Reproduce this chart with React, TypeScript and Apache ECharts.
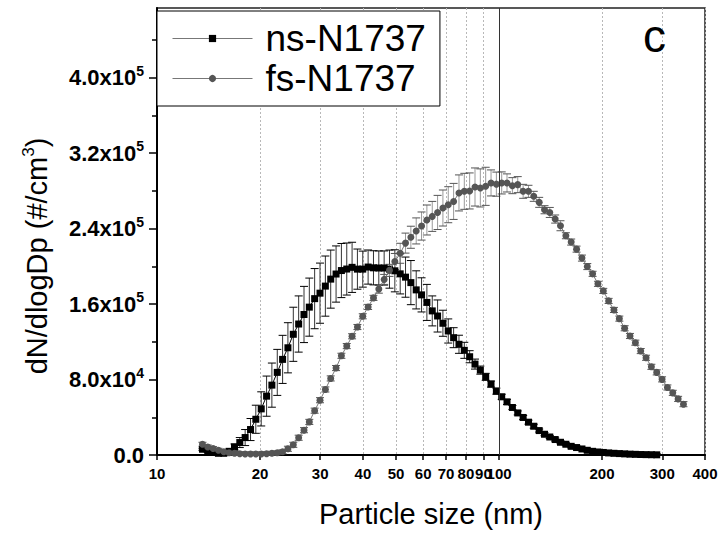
import React, { useEffect, useRef } from "react";
import * as echarts from "echarts";

// SMPS channel mid-point diameters (nm)
const sizes = [
  13.58, 14.07, 14.59, 15.12, 15.68, 16.25, 16.85, 17.46, 18.1, 18.77,
  19.45, 20.17, 20.91, 21.67, 22.47, 23.29, 24.14, 25.03, 25.95, 26.9,
  27.88, 28.9, 29.96, 31.06, 32.2, 33.38, 34.6, 35.87, 37.18, 38.54,
  39.95, 41.42, 42.94, 44.51, 46.14, 47.83, 49.58, 51.4, 53.28, 55.23,
  57.25, 59.35, 61.52, 63.78, 66.11, 68.53, 71.04, 73.65, 76.35, 79.14,
  82.04, 85.05, 88.16, 91.39, 94.74, 98.21, 101.8, 105.5, 109.4, 113.4,
  117.6, 121.9, 126.3, 131.0, 135.8, 140.7, 145.9, 151.2, 156.8, 162.5,
  168.5, 174.7, 181.1, 187.7, 194.6, 201.7, 209.1, 216.7, 224.7, 232.9,
  241.4, 250.3, 259.5, 269.0, 278.8, 289.0, 299.6, 310.6, 322.0, 333.8,
  346.0,
];

// ns-N1737 (black squares): dN/dlogDp and error, from 13.58 nm to 289 nm
const nsValues = [
  6100, 3900, 2900, 1800, 1800, 3900, 8500, 13200, 18500, 27000,
  37900, 48900, 62400, 74100, 87600, 101400, 113700, 128000, 138900, 149000,
  156800, 165800, 171600, 179100, 186500, 191900, 195600, 197200, 199000, 197100,
  197100, 199300, 198500, 198300, 198300, 197100, 195300, 192100, 188600, 182800,
  175100, 169800, 161800, 152800, 147400, 139700, 131500, 124400, 117400, 111000,
  104200, 96400, 90000, 82900, 75200, 67700, 61700, 56300, 50400, 44600,
  39800, 34800, 30500, 25900, 22000, 19100, 16400, 13500, 11400, 9200,
  7900, 6400, 5000, 3900, 3200, 2700, 2200, 1800, 1500, 1200,
  900, 700, 500, 400, 300, 200,
];
const nsErrors = [
  1100, 1100, 1100, 1100, 1100, 2100,
  3200, 5300, 8500, 11700, 14900, 18100, 21300, 23400, 24400, 25500,
  26600, 28700, 29800, 29800, 30800, 31900, 31900, 31900, 30800, 29800,
  28700, 27600, 26600, 21300, 19100, 18100, 18100, 18100, 18100, 20200,
  22300, 21300, 21300, 23400, 20200, 18100, 19100, 15900, 17000, 13800,
  12800, 10600, 9600, 8500, 6400, 5300, 4300, 3700, 3200, 3200,
  2700, 2700,
  2100, 2100, 2100, 2100, 2100,
  1600, 1600, 1600, 1600, 1600, 1600, 1600, 1600, 1600, 1600,
  1100, 1100, 1100, 1100, 1100, 1100, 1100, 1100, 1100, 1100, 1100, 1100, 1100,
];

// fs-N1737 (grey circles): from 13.58 nm to 346 nm
const fsValues = [
  11400, 8500, 6800, 5000, 3400, 2300, 1800, 1300, 1100, 1000,
  1000, 1100, 1300, 1800, 2300, 3400, 6600, 10800, 18300, 26300,
  35100, 47000, 58100, 69500, 81200, 92200, 105200, 115500, 125900, 135700,
  147100, 157000, 166600, 175900, 186200, 195800, 205200, 213900, 224700, 230900,
  237600, 242800, 249200, 253000, 257200, 261900, 265400, 268900, 277900, 279600,
  280000, 284200, 283200, 284900, 288500, 287200, 288500, 288500, 285600, 286700,
  279600, 279600, 274300, 267900, 260100, 257200, 250200, 243100, 232500, 225800,
  218300, 208800, 199800, 192100, 181500, 174000, 163400, 153800, 144600, 134400,
  126200, 119100, 110200, 103100, 93500, 87600, 80200, 71600, 65900, 59500, 53900,
];
const fsErrors = [
  2100, 2100, 2100, 2100, 2100, 2100, 2100, 2100, 2100, 2100, 2100, 2100, 2100, 2100, 2100, 2100,
  2700, 2700, 2700, 2700, 2700, 2700, 2700, 2700, 2700, 2700, 2700, 2700, 2700, 2700, 2700, 2700, 2700,
  4300, 5300, 6400, 8500, 10600, 10600, 11700, 13800, 14900, 15900,
  15900, 18100, 19100, 19100, 19100, 19100, 19100, 19100, 20200, 20200,
  20200, 13800, 12800, 11700, 9600, 8500, 8500, 7400, 6400, 5300,
  5300, 4300, 5300, 4300, 5300, 3200,
  3200, 3200, 3200, 3200,
  2700, 2700, 2700, 2700, 2700, 2700, 2700, 2700, 2700, 2700, 2700, 2700, 2700, 2700, 2700, 2700, 2700, 2700,
];

const xTickValues = [10, 20, 30, 40, 50, 60, 70, 80, 90, 100, 200, 300, 400];
const yLabelValues = [0, 80000, 160000, 240000, 320000, 400000];
const yMinorTickValues = [40000, 120000, 200000, 280000, 360000, 440000];
const seriesNames = ["ns-N1737", "fs-N1737"];

const FONT = "'Liberation Sans', Arial, sans-serif";

function errorSeries(name: string, values: number[], errors: number[], barColor: string, capColor: string) {
  return {
    type: "custom",
    name: name + " error",
    xAxisIndex: 0,
    yAxisIndex: 0,
    z: 2,
    silent: true,
    data: values.map((v, i) => [sizes[i], v, errors[i]]),
    encode: { x: 0, y: 1 },
    renderItem: (_params: any, api: any) => {
      const x = api.value(0);
      const v = api.value(1);
      const e = api.value(2);
      const top = api.coord([x, v + e]);
      const bot = api.coord([x, Math.max(v - e, 0)]);
      const w = 4;
      return {
        type: "group",
        children: [
          { type: "line", shape: { x1: top[0], y1: top[1], x2: bot[0], y2: bot[1] }, style: { stroke: barColor, lineWidth: 1 } },
          { type: "line", shape: { x1: top[0] - w, y1: top[1], x2: top[0] + w, y2: top[1] }, style: { stroke: capColor, lineWidth: 1 } },
          { type: "line", shape: { x1: bot[0] - w, y1: bot[1], x2: bot[0] + w, y2: bot[1] }, style: { stroke: capColor, lineWidth: 1 } },
        ],
      };
    },
  };
}

function yLabel(v: number) {
  if (v === 0) return "{m|0.0}";
  const exp = Math.floor(Math.log10(v) + 1e-9);
  const mant = (v / Math.pow(10, exp)).toFixed(1);
  return `{m|${mant}x10}{e|${exp}}`;
}

export default function App() {
  const ref = useRef<HTMLDivElement>(null);
  useEffect(() => {
    if (!ref.current) return;
    const chart = echarts.init(ref.current, undefined, { renderer: "svg" });
    const xMaxLog = Math.log10(400);
    chart.setOption({
      animation: false,
      backgroundColor: "#fff",
      textStyle: { fontFamily: FONT },
      title: {
        text: "c",
        left: 638,
        top: 8,
        textStyle: { fontSize: 46, fontWeight: "normal", color: "#000", fontFamily: FONT },
      },
      grid: {
        left: 157,
        right: 20,
        top: 8,
        bottom: 78,
        show: true,
        borderColor: "#222",
        borderWidth: 1.5,
        backgroundColor: "transparent",
      },
      legend: {
        data: seriesNames,
        orient: "vertical",
        left: 157,
        top: 11,
        itemWidth: 80,
        itemHeight: 9,
        itemGap: 3,
        padding: [9, 14, 9, 15],
        borderColor: "#000",
        borderWidth: 1,
        backgroundColor: "#fff",
        textStyle: { fontSize: 37, color: "#000", fontFamily: FONT, padding: [0, 0, 0, 8] },
        lineStyle: { width: 1, color: "#777" },
      },
      xAxis: [
        {
          type: "log",
          logBase: 10,
          min: 10,
          max: 400,
          position: "bottom",
          axisLine: { show: true, lineStyle: { color: "#000", width: 2 } },
          axisTick: { show: false },
          axisLabel: { show: false },
          splitLine: { show: false },
          name: "Particle size (nm)",
          nameLocation: "middle",
          nameGap: 44,
          nameTextStyle: { fontSize: 29, color: "#000", fontFamily: FONT },
        },
        {
          type: "value",
          min: 1,
          max: xMaxLog,
          position: "bottom",
          axisLine: { show: false },
          axisTick: {
            show: true,
            length: 5,
            customValues: xTickValues.map((t) => Math.log10(t)),
            lineStyle: { color: "#000", width: 1.5 },
          },
          axisLabel: {
            show: true,
            customValues: xTickValues.map((t) => Math.log10(t)),
            formatter: (v: number) => String(Math.round(Math.pow(10, v))),
            margin: 11,
            fontSize: 15,
            fontWeight: "bold",
            color: "#000",
            fontFamily: FONT,
          },
          splitLine: { show: true, lineStyle: { color: "#b8b8b8", width: 1, type: [2, 2] } },
        },
      ],
      yAxis: [
        {
          type: "value",
          min: 0,
          max: 474000,
          position: "left",
          axisLine: { show: true, lineStyle: { color: "#000", width: 2 } },
          axisTick: { show: true, length: 8, customValues: yLabelValues, lineStyle: { color: "#000", width: 1.5 } },
          axisLabel: {
            customValues: yLabelValues,
            formatter: yLabel,
            margin: 13,
            color: "#000",
            rich: {
              m: { fontSize: 22, fontWeight: "bold", fontFamily: FONT, color: "#000", lineHeight: 28 },
              e: { fontSize: 14, fontWeight: "bold", fontFamily: FONT, color: "#000", verticalAlign: "top", lineHeight: 14 },
            },
          },
          splitLine: { show: false },
        },
        {
          type: "value",
          min: 0,
          max: 474000,
          position: "left",
          axisLine: { show: false },
          axisTick: { show: true, length: 5, customValues: yMinorTickValues, lineStyle: { color: "#000", width: 1.5 } },
          axisLabel: { show: false },
          splitLine: { show: false },
        },
      ],
      graphic: [
        {
          type: "text",
          x: 37,
          y: 256,
          rotation: Math.PI / 2,
          style: {
            text: "{a|dN/dlogDp (#/cm}{s|3}{a|)}",
            align: "center",
            verticalAlign: "middle",
            rich: {
              a: { fontSize: 29, fontFamily: FONT, fill: "#000", lineHeight: 34 },
              s: { fontSize: 17, fontFamily: FONT, fill: "#000", verticalAlign: "top", lineHeight: 17 },
            },
          },
        },
      ],
      series: [
        errorSeries(seriesNames[0], nsValues, nsErrors, "#333", "#000"),
        errorSeries(seriesNames[1], fsValues, fsErrors, "#999", "#555"),
        {
          type: "line",
          name: seriesNames[0],
          xAxisIndex: 0,
          yAxisIndex: 0,
          z: 3,
          data: nsValues.map((v, i) => [sizes[i], v]),
          symbol: "rect",
          symbolSize: 7,
          itemStyle: { color: "#000" },
          lineStyle: { color: "#000", width: 1 },
          markLine: {
            silent: true,
            symbol: "none",
            label: { show: false },
            lineStyle: { color: "#333", width: 1, type: "solid" },
            data: [{ xAxis: 100 }],
          },
        },
        {
          type: "line",
          name: seriesNames[1],
          xAxisIndex: 0,
          yAxisIndex: 0,
          z: 4,
          data: fsValues.map((v, i) => [sizes[i], v]),
          symbol: "circle",
          symbolSize: 7,
          itemStyle: { color: "#555" },
          lineStyle: { color: "#777", width: 1 },
        },
      ],
    });
    return () => chart.dispose();
  }, []);
  return <div ref={ref} style={{ position: "fixed", left: 0, top: 0, width: 725, height: 533 }} />;
}
